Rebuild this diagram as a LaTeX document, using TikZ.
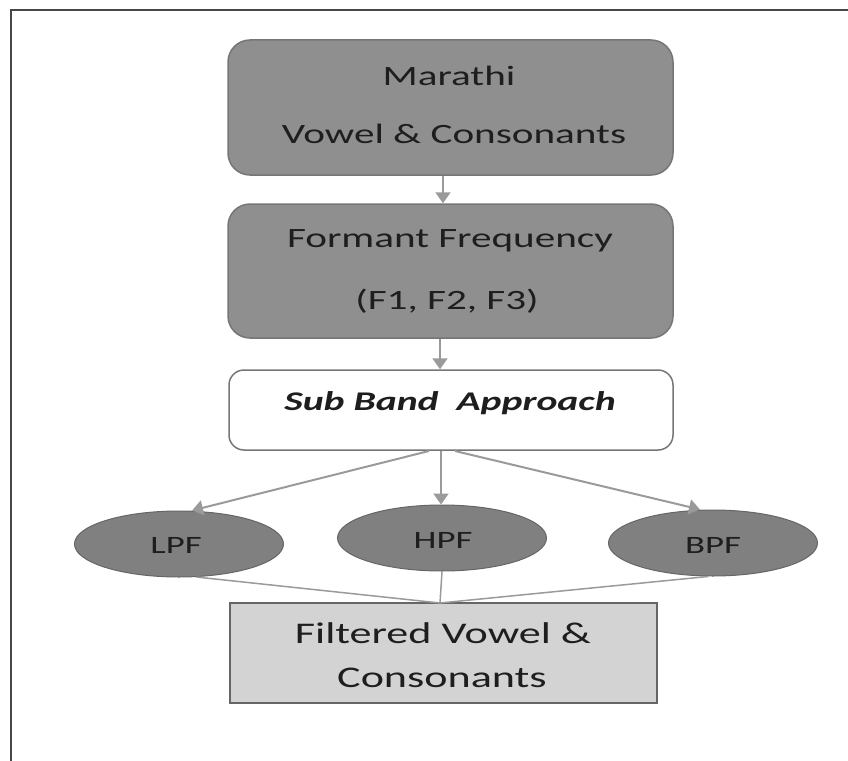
\documentclass[tikz,border=0pt]{standalone}
\usepackage{graphicx}
\usepackage{fontspec}
\setmainfont{Carlito}
\usetikzlibrary{shapes.geometric,arrows.meta}
\definecolor{boxfill}{HTML}{8F8F8F}
\definecolor{boxedge}{HTML}{767676}
\definecolor{ellfill}{HTML}{808080}
\definecolor{lightfill}{HTML}{D3D3D3}
\definecolor{linegray}{HTML}{9A9A9A}
\definecolor{txt}{HTML}{1E1E1E}
\newcommand{\hstretch}[1]{\scalebox{1.47}[1]{#1}}
\tikzset{
  darkbox/.style={draw=boxedge, line width=1.5pt, fill=boxfill, rounded corners=22pt, minimum width=445pt, inner sep=0pt},
  whitebox/.style={draw=boxedge, line width=1.5pt, fill=white, rounded corners=15pt, minimum width=444pt, minimum height=80pt, inner sep=0pt},
  filt/.style={draw=black!60, line width=1pt, fill=ellfill, ellipse, minimum width=209pt, minimum height=66pt, inner sep=0pt},
  outbox/.style={draw=black!60, line width=1.5pt, fill=lightfill, minimum width=427pt, minimum height=100pt, inner sep=0pt},
  lbl/.style={anchor=base, text=txt, inner sep=0pt, font=\fontsize{28}{32}\selectfont},
  lblbi/.style={lbl, font=\fontsize{27}{32}\selectfont\bfseries\itshape},
  lblsm/.style={lbl, font=\fontsize{25}{30}\selectfont},
  lblbig/.style={lbl, font=\fontsize{30}{34}\selectfont},
  arr/.style={draw=linegray, line width=2pt, -{Triangle[length=11pt,width=15pt]}},
  joinline/.style={draw=linegray, line width=1.5pt}
}
\begin{document}
\begin{tikzpicture}[x=1pt,y=-1pt]
\useasboundingbox (0,0) rectangle (848,760);
\draw[line width=2.5pt, draw=black!72] (11,780) -- (11,10) -- (870,10);
% boxes
\node[darkbox, minimum height=135pt] (top) at (450.5,107.5) {};
\node[darkbox, minimum height=134pt] (form) at (450.5,271) {};
\node[whitebox] (sub) at (451,410) {};
\node[filt] (lpf) at (179,544) {};
\node[filt] (hpf) at (442,538) {};
\node[filt] (bpf) at (713,543) {};
\node[outbox] (out) at (443.5,653) {};
% texts
\node[lbl] (t1) at (449,85) {\hstretch{Marathi}};
\node[lbl] (t2) at (454,143) {\hstretch{Vowel \& Consonants}};
\node[lbl] (t3) at (450,247) {\hstretch{Formant Frequency}};
\node[lbl] (t4) at (447,309) {\hstretch{(F1, F2, F3)}};
\node[lblbi] (t5) at (450,410) {\hstretch{Sub Band\ \ Approach}};
\node[lblsm] (t6) at (176,553) {\hstretch{LPF}};
\node[lblsm] (t7) at (443,548) {\hstretch{HPF}};
\node[lblsm] (t8) at (713,553) {\hstretch{BPF}};
\node[lblbig] (t9) at (443,643) {\hstretch{Filtered Vowel \&}};
\node[lblbig] (t10) at (442,687) {\hstretch{Consonants}};
% connectors
\draw[arr] (top.south -| 443,0) -- (form.north -| 443,0);
\draw[arr] (form.south -| 440,0) -- (sub.north -| 440,0);
\coordinate (fanl) at (429,451);
\coordinate (fanc) at (441,451);
\coordinate (fanr) at (455,451);
\draw[arr] (fanl) -- (lpf.north -| 192,0);
\draw[arr] (fanc) -- (hpf.north -| 441,0);
\draw[arr] (fanr) -- (bpf.north -| 700,0);
\coordinate (meet) at (440,603);
\draw[joinline] (lpf.-62) -- (meet);
\draw[joinline] (hpf.south) -- (meet);
\draw[joinline] (bpf.-98) -- (meet);
\end{tikzpicture}
\end{document}
